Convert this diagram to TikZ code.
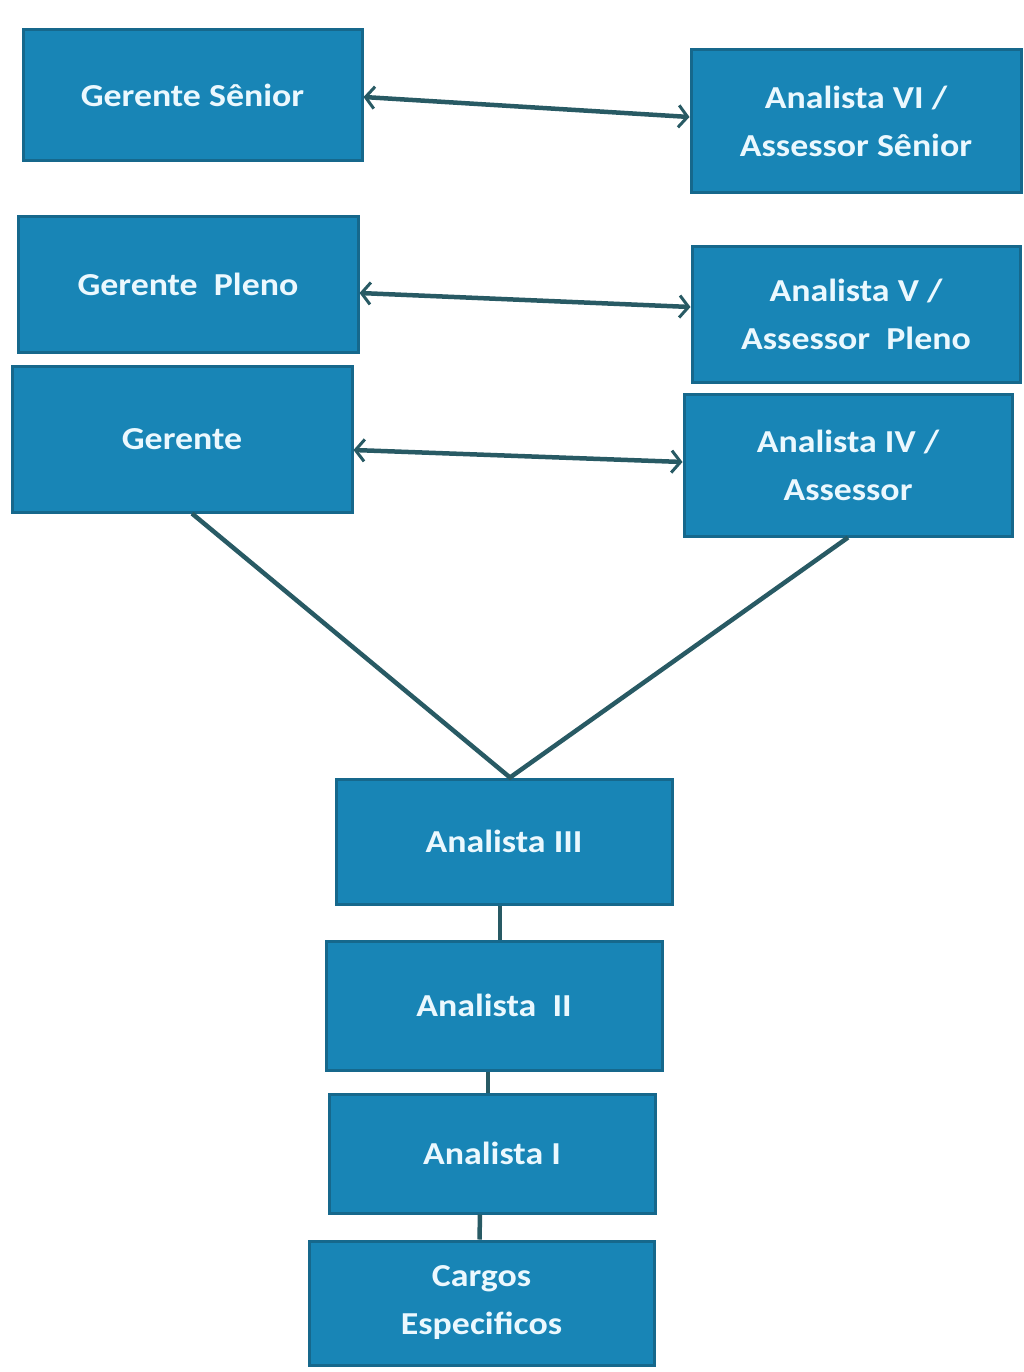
\documentclass[tikz,border=0pt]{standalone}
\usepackage{fontspec}
\setmainfont{Carlito}[FakeStretch=1.12]
\usetikzlibrary{arrows.meta}
\definecolor{boxfill}{RGB}{24,133,182}
\definecolor{boxedge}{RGB}{22,104,140}
\definecolor{linkcol}{RGB}{40,90,100}
\begin{document}
\begin{tikzpicture}[x=1pt,y=-1pt,
  rolebox/.style={draw=boxedge,line width=3pt,fill=boxfill,inner sep=0pt,
    text=white!92!cyan,font=\fontsize{32}{48}\selectfont\bfseries,align=center},
  link/.style={draw=linkcol,line width=4.5pt},
  dlink/.style={link,{Straight Barb[length=9pt,width=22pt,line width=3pt]}-{Straight Barb[length=9pt,width=22pt,line width=3pt]}}]
\useasboundingbox[fill=white] (0,0) rectangle (1023,1372);
\node[rolebox,minimum width=339pt,minimum height=131pt] (gs) at (192.5,95.5) {Gerente Sênior};
\node[rolebox,minimum width=330pt,minimum height=143pt] (avi) at (856,121.5) {Analista VI /\\Assessor Sênior};
\node[rolebox,minimum width=340pt,minimum height=135pt] (gp) at (188,284.5) {Gerente~ Pleno};
\node[rolebox,minimum width=328pt,minimum height=135pt] (av) at (856,314.5) {Analista V /\\Assessor~ Pleno};
\node[rolebox,minimum width=340pt,minimum height=146pt] (g) at (182,439) {Gerente};
\node[rolebox,minimum width=328pt,minimum height=142pt] (aiv) at (848,465) {Analista IV /\\Assessor};
\node[rolebox,minimum width=336pt,minimum height=125pt] (aiii) at (504,841.5) {Analista III};
\node[rolebox,minimum width=336pt,minimum height=129pt] (aii) at (494,1005.5) {Analista~ II};
\node[rolebox,minimum width=326pt,minimum height=119pt] (ai) at (492,1153.5) {Analista I};
\node[rolebox,minimum width=345pt,minimum height=124pt] (ce) at (481.5,1303) {Cargos\\Especificos};
\draw[dlink] ([yshift=-1.5pt]gs.east) -- ([yshift=4.5pt]avi.west);
\draw[dlink] ([yshift=-8.5pt]gp.east) -- ([yshift=7.5pt]av.west);
\draw[dlink] ([yshift=-11pt]g.east) -- ([yshift=3pt]aiv.west);
\coordinate (meet) at ([xshift=6pt]aiii.north);
\draw[link] ([xshift=10pt]g.south) -- (meet) -- (aiv.south);
\draw[link] ([xshift=-4pt]aiii.south) -- ([xshift=6pt]aii.north);
\draw[link] ([xshift=-6pt]aii.south) -- ([xshift=-4pt]ai.north);
\draw[link] ([xshift=-12pt]ai.south) -- ([xshift=-2pt]ce.north);
\end{tikzpicture}
\end{document}
